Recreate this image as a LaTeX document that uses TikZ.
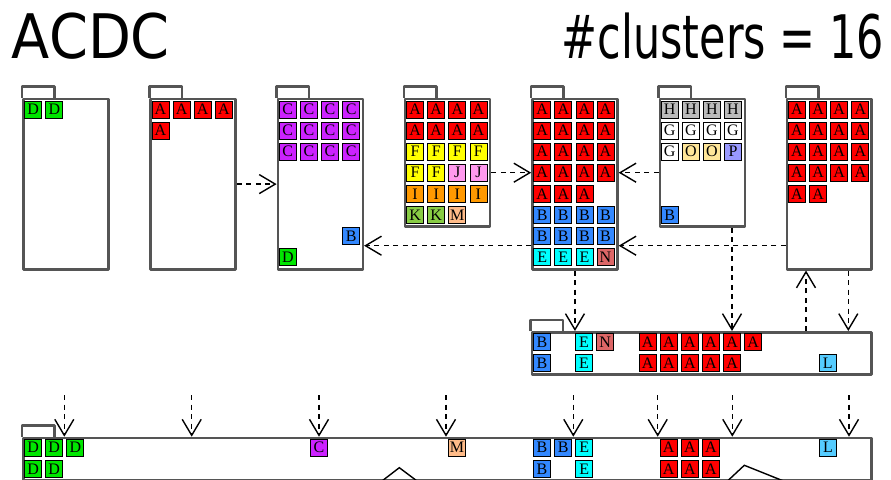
\documentclass[tikz,border=0pt]{standalone}
\usepackage{fontspec}
\newfontfamily\titlefont{DejaVu Sans}
\newfontfamily\tagfont{Liberation Serif}
\usetikzlibrary{arrows.meta,calc}

% cluster colours
\definecolor{cA}{HTML}{FF0000}
\definecolor{cB}{HTML}{3388FF}
\definecolor{cC}{HTML}{CC22FF}
\definecolor{cD}{HTML}{00E600}
\definecolor{cE}{HTML}{00FFFF}
\definecolor{cF}{HTML}{FFFF00}
\definecolor{cG}{HTML}{FFFFFF}
\definecolor{cH}{HTML}{BBBBBB}
\definecolor{cI}{HTML}{FF9900}
\definecolor{cJ}{HTML}{FF99EE}
\definecolor{cK}{HTML}{88CC44}
\definecolor{cL}{HTML}{55CCFF}
\definecolor{cM}{HTML}{FFBB88}
\definecolor{cN}{HTML}{DD6666}
\definecolor{cO}{HTML}{FFE699}
\definecolor{cP}{HTML}{9999FF}
\definecolor{framegray}{HTML}{555555}

\tikzset{
  sqbox/.style={draw=black, line width=0.8pt, minimum size=17pt, inner sep=0pt,
    font=\tagfont\fontsize{16}{16}\selectfont},
  folderbody/.style={draw=framegray, line width=2.5pt, fill=white, inner sep=0pt,
    anchor=north west, line join=round},
  foldertab/.style={draw=framegray, line width=2.5pt, fill=white, line join=round},
  flow/.style={draw=black, line width=1.4pt, dash pattern=on 5pt off 4.5pt,
    -{Straight Barb[length=16pt,width=19pt]}},
  sketchline/.style={draw=black, line width=1.4pt},
}

% #1 name, #2 left, #3 top, #4 width, #5 height
\newcommand\folder[5]{%
  \draw[foldertab] (#2,#3) -- ++(0,-11) -- ++(32.5,0) -- ++(0,11);
  \node[folderbody, minimum width=#4pt, minimum height=#5pt] (#1) at (#2,#3) {};
}
% #1 name, #2 first centre x, #3 centre y, #4 letter/colour list
\newcommand\sqrow[4]{%
  \foreach \sqlet/\sqcol [count=\sqi] in {#4}
    \node[sqbox, fill=\sqcol] (#1-\sqi) at ({#2+21.1*(\sqi-1)},#3) {\sqlet};
}

\begin{document}
\begin{tikzpicture}[x=1pt,y=-1pt]
\useasboundingbox (0,0) rectangle (891,479);
\clip (0,0) rectangle (891,479);

% titles
\node[anchor=base west, inner sep=0pt] (title) at (11.7,58.3)
  {\resizebox{158pt}{45.6pt}{\titlefont ACDC}};
\node[anchor=base west, inner sep=0pt] (count) at (561.7,58.3)
  {\resizebox{322pt}{45.6pt}{\titlefont \#clusters = 16}};

% upper row of folders
\folder{f1}{22}{97.7}{85}{170.3}
\folder{f2}{149.3}{97.7}{85}{170.3}
\folder{f3}{276.6}{97.7}{85}{170.3}
\folder{f4}{403.9}{97.7}{85}{127.6}
\folder{f5}{531.2}{97.7}{85}{170.3}
\folder{f6}{658.5}{97.7}{85}{127.6}
\folder{f7}{785.8}{97.7}{84.2}{170.3}
% merged folders
\folder{wf}{530.7}{331}{339.3}{42.3}
\folder{bf}{22}{436.7}{848}{41.9}

% f1
\sqrow{f1r1}{33.2}{109.4}{D/cD,D/cD}
% f2
\sqrow{f2r1}{160.5}{109.4}{A/cA,A/cA,A/cA,A/cA}
\sqrow{f2r2}{160.5}{130.5}{A/cA}
% f3
\sqrow{f3r1}{287.8}{109.4}{C/cC,C/cC,C/cC,C/cC}
\sqrow{f3r2}{287.8}{130.5}{C/cC,C/cC,C/cC,C/cC}
\sqrow{f3r3}{287.8}{151.6}{C/cC,C/cC,C/cC,C/cC}
\sqrow{f3r7}{351.1}{236.0}{B/cB}
\sqrow{f3r8}{287.8}{257.1}{D/cD}
% f4
\sqrow{f4r1}{415.1}{109.4}{A/cA,A/cA,A/cA,A/cA}
\sqrow{f4r2}{415.1}{130.5}{A/cA,A/cA,A/cA,A/cA}
\sqrow{f4r3}{415.1}{151.6}{F/cF,F/cF,F/cF,F/cF}
\sqrow{f4r4}{415.1}{172.7}{F/cF,F/cF,J/cJ,J/cJ}
\sqrow{f4r5}{415.1}{193.8}{I/cI,I/cI,I/cI,I/cI}
\sqrow{f4r6}{415.1}{214.9}{K/cK,K/cK,M/cM}
% f5
\sqrow{f5r1}{542.2}{109.4}{A/cA,A/cA,A/cA,A/cA}
\sqrow{f5r2}{542.2}{130.5}{A/cA,A/cA,A/cA,A/cA}
\sqrow{f5r3}{542.2}{151.6}{A/cA,A/cA,A/cA,A/cA}
\sqrow{f5r4}{542.2}{172.7}{A/cA,A/cA,A/cA,A/cA}
\sqrow{f5r5}{542.2}{193.8}{A/cA,A/cA,A/cA}
\sqrow{f5r6}{542.2}{214.9}{B/cB,B/cB,B/cB,B/cB}
\sqrow{f5r7}{542.2}{236.0}{B/cB,B/cB,B/cB,B/cB}
\sqrow{f5r8}{542.2}{257.1}{E/cE,E/cE,E/cE,N/cN}
% f6
\sqrow{f6r1}{669.7}{109.4}{H/cH,H/cH,H/cH,H/cH}
\sqrow{f6r2}{669.7}{130.5}{G/cG,G/cG,G/cG,G/cG}
\sqrow{f6r3}{669.7}{151.6}{G/cG,O/cO,O/cO,P/cP}
\sqrow{f6r6}{669.7}{214.9}{B/cB}
% f7
\sqrow{f7r1}{797.0}{109.4}{A/cA,A/cA,A/cA,A/cA}
\sqrow{f7r2}{797.0}{130.5}{A/cA,A/cA,A/cA,A/cA}
\sqrow{f7r3}{797.0}{151.6}{A/cA,A/cA,A/cA,A/cA}
\sqrow{f7r4}{797.0}{172.7}{A/cA,A/cA,A/cA,A/cA}
\sqrow{f7r5}{797.0}{193.8}{A/cA,A/cA}

% wide folder contents
\sqrow{wfB1}{541.9}{342}{B/cB}
\sqrow{wfE1}{584.1}{342}{E/cE,N/cN}
\sqrow{wfA1}{647.7}{342}{A/cA,A/cA,A/cA,A/cA,A/cA,A/cA}
\sqrow{wfB2}{541.9}{363.1}{B/cB}
\sqrow{wfE2}{584.1}{363.1}{E/cE}
\sqrow{wfA2}{647.7}{363.1}{A/cA,A/cA,A/cA,A/cA,A/cA}
\sqrow{wfL2}{827.7}{363.1}{L/cL}

% bottom folder contents
\sqrow{bfD1}{33.1}{447.7}{D/cD,D/cD,D/cD}
\sqrow{bfC1}{319}{447.7}{C/cC}
\sqrow{bfM1}{457}{447.7}{M/cM}
\sqrow{bfB1}{542}{447.7}{B/cB,B/cB,E/cE}
\sqrow{bfA1}{668.7}{447.7}{A/cA,A/cA,A/cA}
\sqrow{bfL1}{828}{447.7}{L/cL}
\sqrow{bfD2}{33.1}{468.8}{D/cD,D/cD}
\sqrow{bfB2}{542}{468.8}{B/cB}
\sqrow{bfE2}{584.2}{468.8}{E/cE}
\sqrow{bfA2}{668.7}{468.8}{A/cA,A/cA,A/cA}

% strokes running below the frame
\draw[sketchline] (382,481) -- (399.3,467.7) -- (417,481);
\draw[sketchline] (727.5,481) -- (744.3,465.3) -- (783.5,481);

% moves between folders
\draw[flow] (f2) -- (f3);
\draw[flow] (f4.east |- f4r4-4) -- (f5.west |- f4r4-4);
\draw[flow] (f6.west |- f5r4-1) -- (f5.east |- f5r4-1);
\draw[flow] (f7.west |- 0,245.7) -- (f5.east |- 0,245.7);
\draw[flow] (f5.west |- 0,245.7) -- (f3.east |- 0,245.7);
\draw[flow] (f5.south) -- (wf.north -| f5.south);
\draw[flow] (f6.south -| 732,0) -- (wf.north -| 732,0);
\draw[flow] (wf.north -| 806,0) -- (f7.south -| 806,0);
\draw[flow] (f7.south -| 848.3,0) -- (wf.north -| 848.3,0);

% incoming moves to the bottom folder
\foreach \bx [count=\bi] in {64.3,191.7,319,446,573.3,657.7,732.3,849} {
  \coordinate (src-\bi) at (\bx,395);
  \draw[flow] (src-\bi) -- (bf.north -| src-\bi);
}
\end{tikzpicture}
\end{document}
